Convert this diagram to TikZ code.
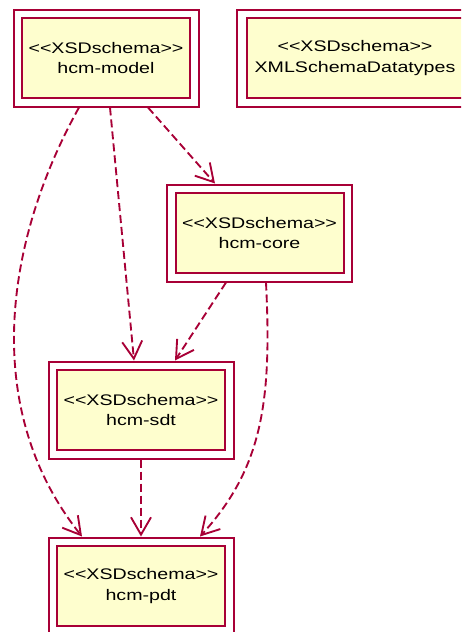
\documentclass[tikz,border=0pt]{standalone}
\usepackage{fontspec}
\setmainfont{Liberation Sans}[FakeStretch=1.28, Ligatures=TeXOff]
\usetikzlibrary{arrows.meta,calc}
\definecolor{umlborder}{HTML}{A80036}
\definecolor{umlfill}{HTML}{FEFECE}
\begin{document}
\begin{tikzpicture}[x=0.75pt,y=-0.75pt,
  outerbox/.style={draw=umlborder, fill=white, line width=1.5pt,
    minimum width=138.75pt, minimum height=72.75pt, inner sep=0pt},
  innerbox/.style={draw=umlborder, fill=umlfill, line width=1.5pt,
    minimum width=126pt, minimum height=60pt, inner sep=0pt, align=center,
    font=\fontsize{11.5pt}{15.5pt}\selectfont},
  dep/.style={umlborder, line width=1.4pt, dash pattern=on 6pt off 3pt,
    -{Straight Barb[length=13pt,width=15pt]}}
]
\useasboundingbox (0,0) rectangle (461,632);
\clip (0,0) rectangle (461,632);

% schema packages: outer frame with an inner tinted box
\node[outerbox] (model) at (106,58) {};
\node[innerbox] (model-in) at (model.center) {<<XSDschema>>\\hcm-model};

\node[outerbox, minimum width=177pt] (xsd) at (355,58) {};
\node[innerbox, minimum width=162pt] (xsd-in) at (xsd.center) {<<XSDschema>>\\XMLSchemaDatatypes};

\node[outerbox] (core) at (259.5,233) {};
\node[innerbox] (core-in) at (core.center) {<<XSDschema>>\\hcm-core};

\node[outerbox] (sdt) at (141,410) {};
\node[innerbox] (sdt-in) at (sdt.center) {<<XSDschema>>\\hcm-sdt};

\node[outerbox] (pdt) at (141,586) {};
\node[innerbox] (pdt-in) at (pdt.center) {<<XSDschema>>\\hcm-pdt};

% dependencies
\draw[dep] ($(model.south)+(-27,0)$) .. controls +(-74,133) and +(-102,-128) .. ($(pdt.north)+(-59,0)$);
\draw[dep] ($(model.south)+(4,0)$) -- ($(sdt.north)+(-7,0)$);
\draw[dep] ($(model.south)+(42,0)$) -- ($(core.north)+(-44.5,0)$);
\draw[dep] ($(core.south)+(-33.5,0)$) -- ($(sdt.north)+(34,0)$);
\draw[dep] ($(core.south)+(6.5,0)$) .. controls +(6,120) and +(62,-68) .. ($(pdt.north)+(59,0)$);
\draw[dep] (sdt.south) -- (pdt.north);
\end{tikzpicture}
\end{document}
